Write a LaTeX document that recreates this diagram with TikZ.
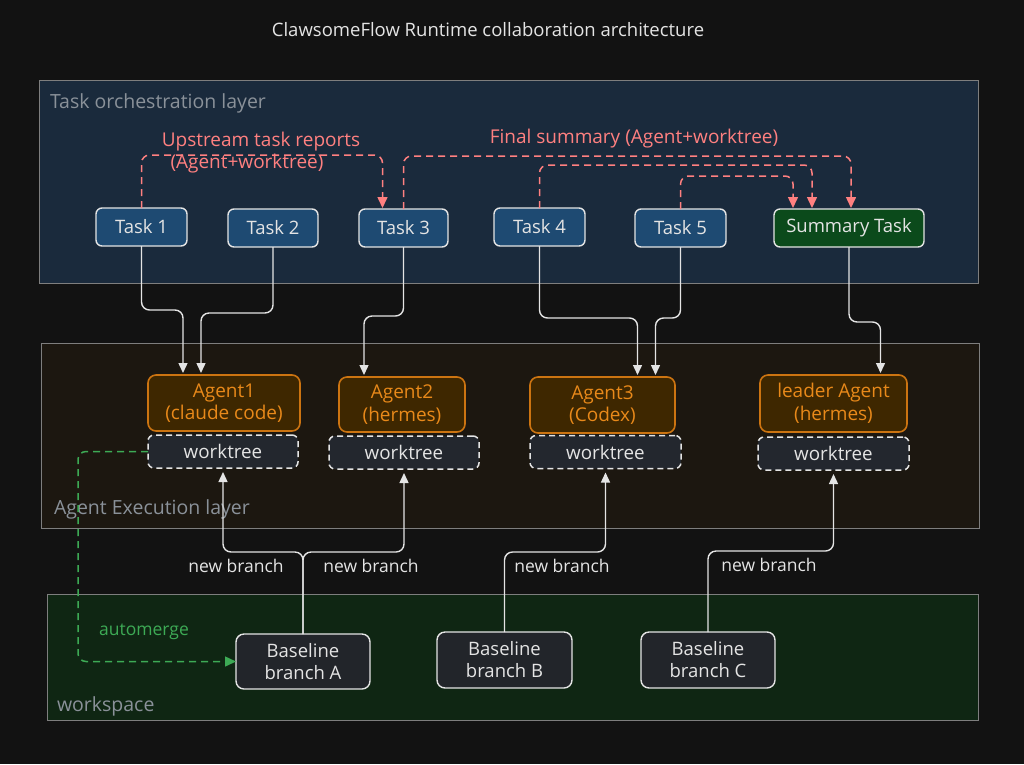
\documentclass[tikz,border=0pt]{standalone}
\usepackage{fontspec}
\setmainfont{Open Sans}
\usetikzlibrary{arrows.meta}
\definecolor{bgc}{HTML}{121212}
\definecolor{navybg}{HTML}{1A2A3C}
\definecolor{brownbg}{HTML}{1C1710}
\definecolor{greenbg}{HTML}{0F2613}
\definecolor{layerline}{HTML}{7E7E7E}
\definecolor{layertext}{HTML}{8A9199}
\definecolor{taskfill}{HTML}{1E4A72}
\definecolor{sumfill}{HTML}{0B4A1B}
\definecolor{edgec}{HTML}{E4E4E4}
\definecolor{agfill}{HTML}{3E2700}
\definecolor{agline}{HTML}{CC7411}
\definecolor{agtext}{HTML}{E8891A}
\definecolor{wtfill}{HTML}{23272E}
\definecolor{basefill}{HTML}{22252A}
\definecolor{redline}{HTML}{FF8080}
\definecolor{greenline}{HTML}{3DAA55}
\begin{document}
\begin{tikzpicture}[x=1pt,y=-1pt,
  every node/.style={inner sep=0pt, outer sep=0pt},
  layerbox/.style={draw=layerline, line width=0.8pt},
  layerlabel/.style={text=layertext, font=\fontsize{19.5}{22}\selectfont, anchor=west},
  taskbox/.style={draw=edgec, fill=taskfill, rounded corners=6pt, line width=1.4pt, minimum height=38pt, text=edgec, font=\fontsize{18.5}{21}\selectfont},
  agentbox/.style={draw=agline, fill=agfill, rounded corners=8pt, line width=1.6pt, text=agtext, align=center, font=\fontsize{19}{22.5}\selectfont},
  wtbox/.style={draw=edgec, fill=wtfill, dash pattern=on 6pt off 4pt, rounded corners=6pt, line width=1.5pt, minimum height=33pt, text=edgec, font=\fontsize{18.8}{21}\selectfont},
  basebox/.style={draw=edgec, fill=basefill, rounded corners=8pt, line width=1.4pt, minimum width=134pt, minimum height=55pt, text=edgec, align=center, font=\fontsize{18.5}{22}\selectfont},
  conn/.style={draw=edgec, line width=1.4pt, rounded corners=8pt, -{Triangle[length=10pt,width=9pt]}, shorten >=2pt},
  redconn/.style={draw=redline, line width=1.5pt, dash pattern=on 7pt off 5pt, rounded corners=8pt, -{Triangle[length=11pt,width=10pt]}, shorten >=1pt},
  greenconn/.style={draw=greenline, line width=1.5pt, dash pattern=on 7pt off 5pt, rounded corners=8pt, -{Triangle[length=11pt,width=10pt]}},
  lbl/.style={text=edgec, font=\fontsize{17.5}{20}\selectfont},
  redlbl/.style={text=redline, font=\fontsize{19}{22}\selectfont},
]
\fill[bgc] (0,0) rectangle (1024,764);
\useasboundingbox (0,0) rectangle (1024,764);

% title
\node[text=edgec, font=\fontsize{18.5}{21}\selectfont] (title) at (488,30) {ClawsomeFlow Runtime collaboration architecture};

% layers
\node[layerbox, fill=navybg, minimum width=939pt, minimum height=203pt] (orch) at (508.5,181.5) {};
\node[layerbox, fill=brownbg, minimum width=938pt, minimum height=185pt] (exec) at (510,435.5) {};
\node[layerbox, fill=greenbg, minimum width=931pt, minimum height=126pt] (ws) at (512.5,657) {};
\node[layerlabel] (orchlbl) at (50,103) {Task orchestration layer};
\node[layerlabel] (execlbl) at (54,509) {Agent Execution layer};
\node[layerlabel] (wslbl) at (57,706) {workspace};

% tasks
\node[taskbox, minimum width=91pt] (t1) at (141.5,227) {Task 1};
\node[taskbox, minimum width=90pt] (t2) at (273,228) {Task 2};
\node[taskbox, minimum width=89pt] (t3) at (403.5,228) {Task 3};
\node[taskbox, minimum width=91pt] (t4) at (539.5,227) {Task 4};
\node[taskbox, minimum width=91pt] (t5) at (680.5,228) {Task 5};
\node[taskbox, fill=sumfill, minimum width=150pt] (sum) at (849,228) {Summary Task};

% agents
\node[agentbox, minimum width=152pt, minimum height=56pt] (a1) at (224,403) {Agent1\\(claude code)};
\node[agentbox, minimum width=126pt, minimum height=55pt] (a2) at (402,404.5) {Agent2\\(hermes)};
\node[agentbox, minimum width=145pt, minimum height=56pt] (a3) at (602.5,405) {Agent3\\(Codex)};
\node[agentbox, minimum width=147pt, minimum height=57pt] (lead) at (833.5,403.5) {leader Agent\\(hermes)};

% worktrees
\node[wtbox, minimum width=150pt] (wt1) at (223,451.5) {worktree};
\node[wtbox, minimum width=150pt] (wt2) at (404,452.5) {worktree};
\node[wtbox, minimum width=151pt] (wt3) at (605.5,452) {worktree};
\node[wtbox, minimum width=151pt] (wt4) at (833.5,453.5) {worktree};

% baselines
\node[basebox] (bA) at (303,661.5) {Baseline\\branch A};
\node[basebox, minimum width=135pt, minimum height=56pt] (bB) at (504.5,660) {Baseline\\branch B};
\node[basebox, minimum height=56pt] (bC) at (708,660) {Baseline\\branch C};

% task -> agent
\draw[conn] (t1.south) -- ++(0,64) -| ([xshift=-41pt]a1.north);
\draw[conn] (t2.south) -- ++(0,66) -| ([xshift=-23pt]a1.north);
\draw[conn] (t3.south) -- ++(0,69) -| ([xshift=-38pt]a2.north);
\draw[conn] (t4.south) -- ++(0,72) -| ([xshift=35pt]a3.north);
\draw[conn] (t5.south) -- ++(0,71) -| ([xshift=53pt]a3.north);
\draw[conn] (sum.south) -- ++(0,75) -| ([xshift=47pt]lead.north);

% baseline -> worktree
\draw[conn, shorten >=4pt] (bA.north) -- ++(0,-82) -| (wt1.south);
\draw[conn, shorten >=4pt] (bA.north) -- ++(0,-82) -| (wt2.south);
\draw[conn, shorten >=4pt] (bB.north) -- ++(0,-80) -| (wt3.south);
\draw[conn, shorten >=4pt] (bC.north) -- ++(0,-81) -| (wt4.south);
\node[lbl] (nb1) at (236,566) {new branch};
\node[lbl] (nb2) at (371,566) {new branch};
\node[lbl] (nb3) at (562,566) {new branch};
\node[lbl] (nb4) at (769,565) {new branch};

% automerge
\draw[greenconn] (wt1.west) -- ++(-70,0) |- (bA.west);
\node[text=greenline, font=\fontsize{17.5}{20}\selectfont] (am) at (144,632) {automerge};

% red dashed
\draw[redconn] (t1.north) -- ++(0,-53) -| ([xshift=-21pt]t3.north);
\draw[redconn] (t3.north) -- ++(0,-53) -| ([xshift=2pt]sum.north);
\draw[redconn] (t4.north) -- ++(0,-43) -| ([xshift=-37pt]sum.north);
\draw[redconn] (t5.north) -- ++(0,-33) -| ([xshift=-56pt]sum.north);
\node[redlbl] (up1) at (261,142) {Upstream task reports};
\node[redlbl] (up2) at (247,164) {(Agent+worktree)};
\node[redlbl] (fin) at (634,139) {Final summary (Agent+worktree)};
\end{tikzpicture}
\end{document}
